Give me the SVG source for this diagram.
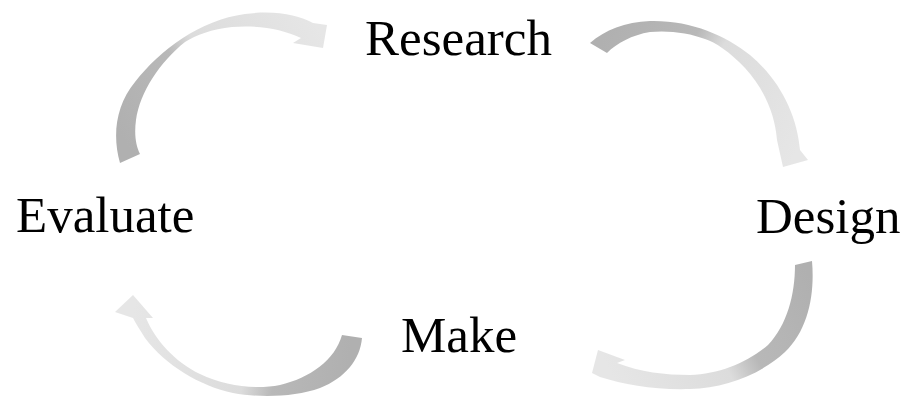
<svg xmlns="http://www.w3.org/2000/svg" width="909" height="398" viewBox="0 0 909 398">
<style>
.lbl{font-family:"Liberation Serif","Times New Roman",serif;font-size:51px;fill:#000}
</style>
<defs>
<linearGradient id="g1" gradientUnits="userSpaceOnUse" x1="130" y1="150" x2="320" y2="30">
<stop offset="0" stop-color="#b0b0b0"/><stop offset="0.38" stop-color="#b8b8b8"/><stop offset="0.5" stop-color="#dcdcdc"/><stop offset="1" stop-color="#e6e6e6"/>
</linearGradient>
<linearGradient id="g2" gradientUnits="userSpaceOnUse" x1="598" y1="48" x2="792" y2="160">
<stop offset="0" stop-color="#b0b0b0"/><stop offset="0.35" stop-color="#b8b8b8"/><stop offset="0.48" stop-color="#dcdcdc"/><stop offset="1" stop-color="#e6e6e6"/>
</linearGradient>
<linearGradient id="g3" gradientUnits="userSpaceOnUse" x1="803" y1="263" x2="605" y2="362">
<stop offset="0" stop-color="#b0b0b0"/><stop offset="0.38" stop-color="#b8b8b8"/><stop offset="0.52" stop-color="#dcdcdc"/><stop offset="1" stop-color="#e6e6e6"/>
</linearGradient>
<linearGradient id="g4" gradientUnits="userSpaceOnUse" x1="352" y1="336" x2="133" y2="310">
<stop offset="0" stop-color="#b0b0b0"/><stop offset="0.33" stop-color="#b8b8b8"/><stop offset="0.47" stop-color="#dcdcdc"/><stop offset="1" stop-color="#e6e6e6"/>
</linearGradient>
</defs>
<rect width="909" height="398" fill="#fff"/>
<g id="connectors">
<path id="arrow-evaluate-research" fill="url(#g1)" d="M120,163 C112,135 116,105 135,82 C160,50 200,20 245,14 C275,10 298,15 313,23 L327,25 L323,48 L293,43 L301,38 C282,29 258,25 232,27 C212,29 196,35 185,42 C160,62 140,92 136,120 C134,135 136,146 140,154 Z"/>
<path id="arrow-research-design" fill="url(#g2)" d="M590,43 C605,30 625,22 650,21 C690,20 725,35 750,55 C780,80 797,115 800,150 L808,160 L783,167 L777,140 C775,115 765,90 745,68 C730,52 715,42 705,39 C690,33 668,30 650,32 C632,35 617,43 607,53 Z"/>
<path id="arrow-design-make" fill="url(#g3)" d="M795,265 L812,261 C815,295 808,330 785,352 C760,375 725,388 690,389 C655,390 625,385 600,377 L592,373 L598,350 L625,360 L617,363 C640,372 665,375 690,375 C720,374 748,362 768,345 C787,325 795,295 795,265 Z"/>
<path id="arrow-make-evaluate" fill="url(#g4)" d="M342,335 L362,338 C360,360 345,378 320,388 C295,397 260,398 233,393 C200,386 165,365 145,338 C140,330 136,324 133,318 L115,312 L133,295 L153,318 L146,318 C155,340 175,362 200,374 C225,386 255,390 280,385 C310,378 335,360 342,335 Z"/>
</g>
<g id="node-research"><text class="lbl" x="365" y="55">Research</text></g>
<g id="node-design"><text class="lbl" x="756" y="233">Design</text></g>
<g id="node-make"><text class="lbl" x="401" y="352">Make</text></g>
<g id="node-evaluate"><text class="lbl" x="16" y="232">Evaluate</text></g>
</svg>
